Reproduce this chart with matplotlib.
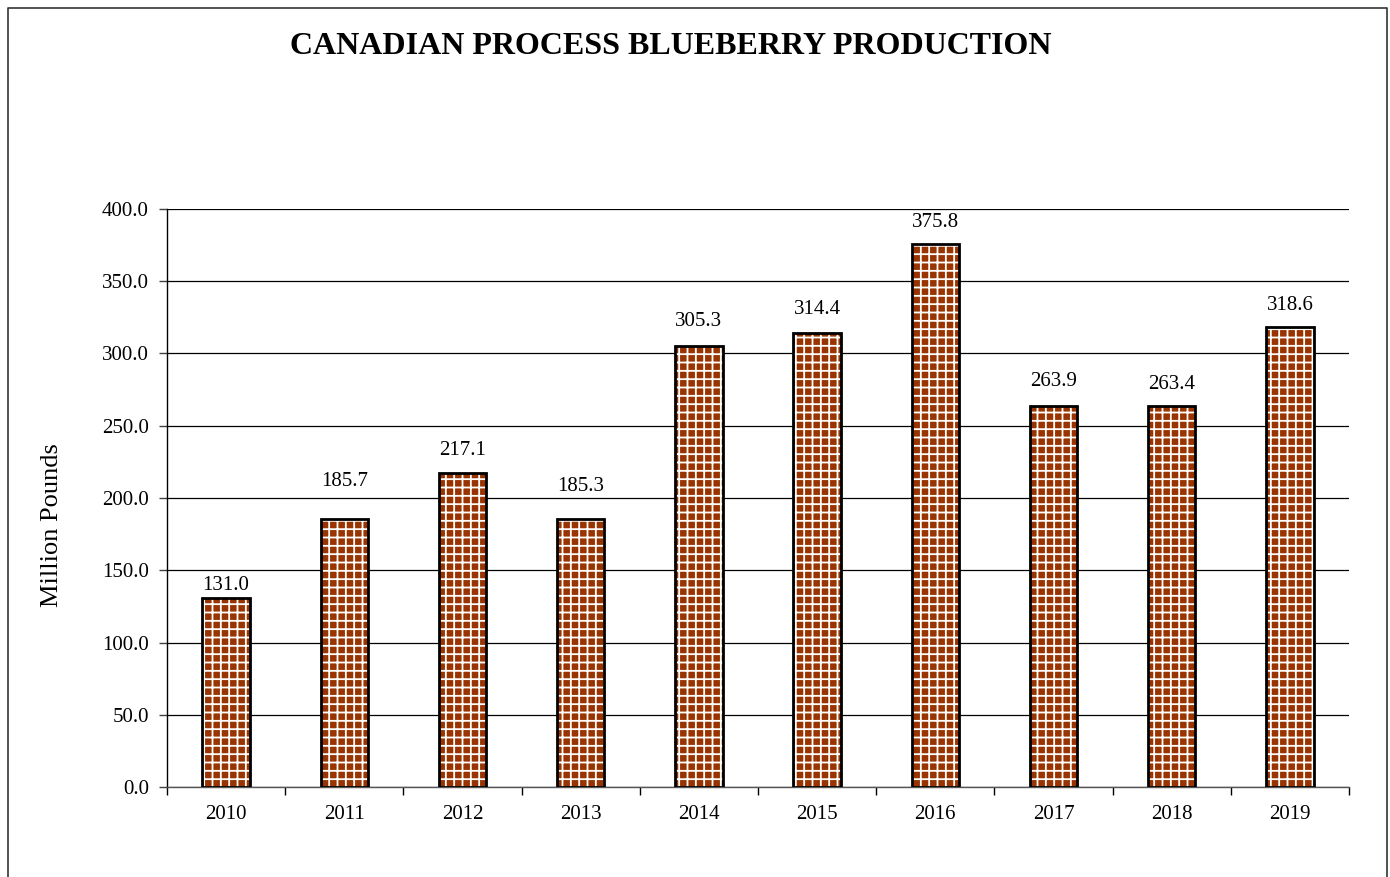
import matplotlib
matplotlib.use("Agg")
import matplotlib.pyplot as plt
from matplotlib.lines import Line2D

years = ["2010", "2011", "2012", "2013", "2014", "2015", "2016", "2017", "2018", "2019"]
values = [131.0, 185.7, 217.1, 185.3, 305.3, 314.4, 375.8, 263.9, 263.4, 318.6]
yticks = [0, 50, 100, 150, 200, 250, 300, 350, 400]

# style: vertical gap (pixels) between bar top and label centre, as placed in the original
label_gap_px = [12, 37, 23, 33, 24, 23, 21, 24, 22, 21]

plt.rcParams['font.family'] = ['Liberation Serif', 'DejaVu Serif']
plt.rcParams['hatch.linewidth'] = 1.3

W, H = 1390, 877
fig = plt.figure(figsize=(W / 100, H / 100), dpi=100)
ax = fig.add_axes([167 / W, (H - 787) / H, (1349 - 167) / W, (787 - 209) / H])

x = list(range(len(years)))
ax.bar(x, values, width=0.4, color='#993300', edgecolor='white', hatch='++', linewidth=0, zorder=3)
ax.bar(x, values, width=0.4, facecolor='none', edgecolor='black', linewidth=2, zorder=4)

for xi, v, g in zip(x, values, label_gap_px):
    ax.annotate(f"{v:.1f}", (xi, v), xytext=(0, g * 0.72), textcoords='offset points',
                ha='center', va='center', fontsize=15, zorder=5)

ax.set_xlim(-0.5, len(years) - 0.5)
ax.set_ylim(0, 400)
ax.set_yticks(yticks)
ax.set_yticklabels([f"{t:.1f}" for t in yticks], fontsize=15)
ax.set_xticks(x)
ax.set_xticklabels(years, fontsize=15)
ax.tick_params(axis='x', length=0, pad=13)
ax.set_xticks([i - 0.5 for i in range(len(years) + 1)], minor=True)
ax.tick_params(axis='x', which='minor', length=6, width=1, color='black')
ax.tick_params(axis='y', length=6, width=1, color='#404040', pad=7)

ax.grid(axis='y', color='black', linewidth=0.9, zorder=0)
ax.set_axisbelow(True)
for s in ['top', 'right']:
    ax.spines[s].set_visible(False)
ax.spines['left'].set_color('black')
ax.spines['left'].set_linewidth(1)
ax.spines['bottom'].set_color('#555555')
ax.spines['bottom'].set_linewidth(1)

fig.text(52 / W, 1 - 525.5 / H, "Million Pounds", rotation=90,
         ha='center', va='center', fontsize=19)

fig.text(671 / W, 1 - 47 / H, "CANADIAN PROCESS BLUEBERRY PRODUCTION",
         ha='center', va='center', fontsize=23, fontweight='bold')

# figure frame (bottom cut off)
fx = [7.5 / W, 7.5 / W, 1386.5 / W, 1386.5 / W]
fy = [0, 1 - 8 / H, 1 - 8 / H, 0]
fig.add_artist(Line2D(fx, fy, transform=fig.transFigure, color='#333333', linewidth=1.2))

fig.savefig("out.png", dpi=100)
